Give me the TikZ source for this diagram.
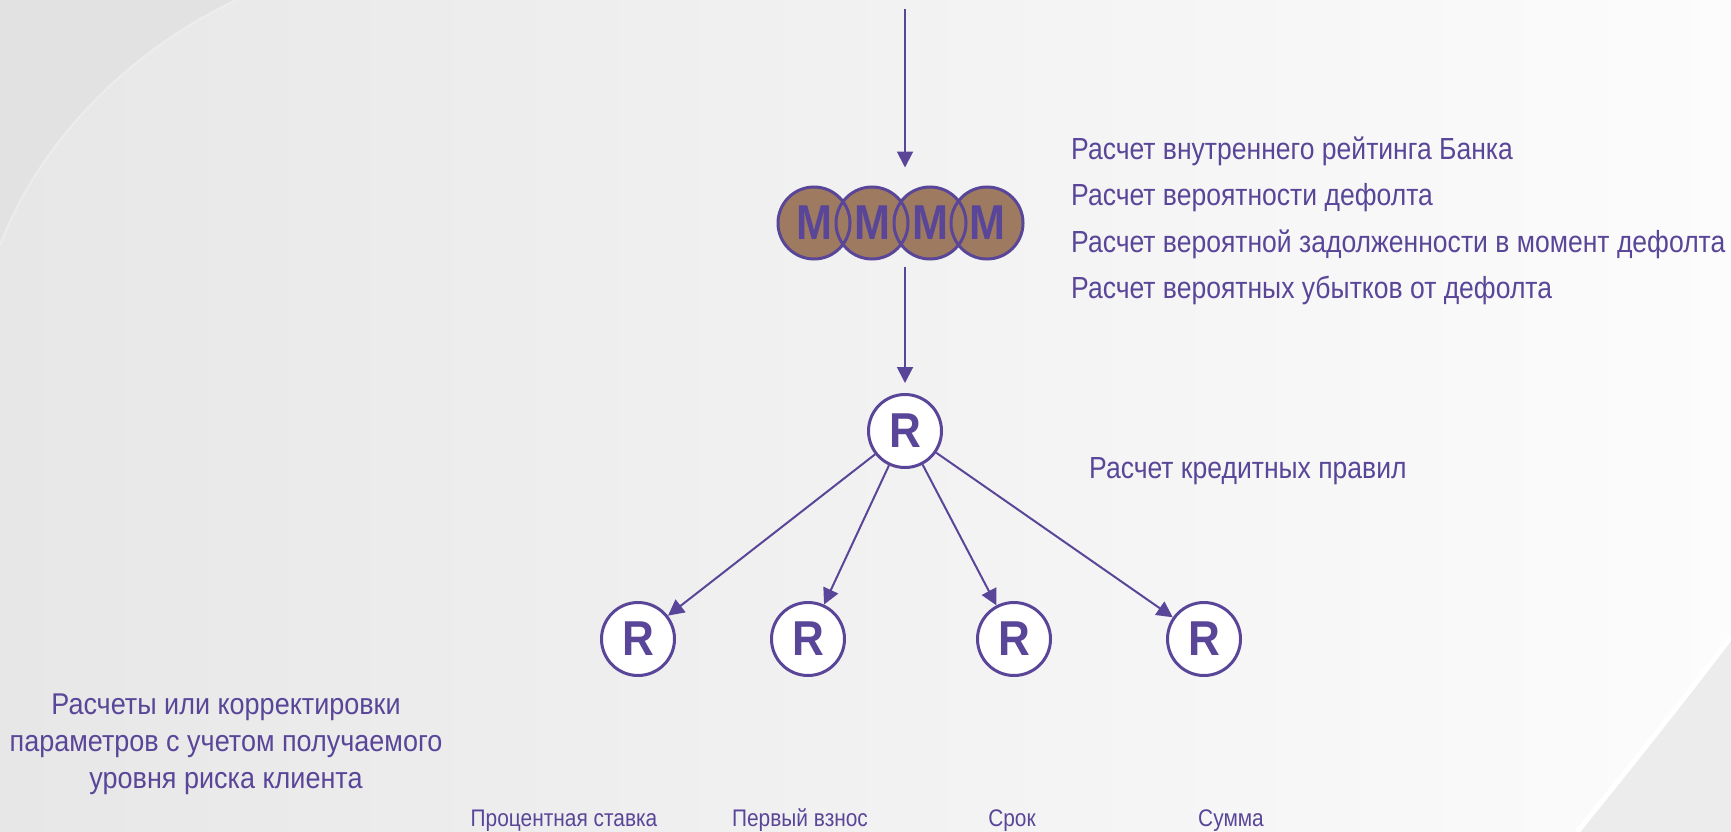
\documentclass[tikz,border=0pt]{standalone}
\usepackage{fontspec}
\setmainfont{Liberation Sans}
\newfontfamily\narrowfont[FakeStretch=0.87]{Liberation Sans}
\newfontfamily\leftfont[FakeStretch=0.9]{Liberation Sans}
\newfontfamily\boldnarrowM[FakeStretch=0.88]{Liberation Sans Bold}
\newfontfamily\boldnarrowR[FakeStretch=0.9]{Liberation Sans Bold}
\usetikzlibrary{arrows.meta,calc}
\definecolor{purp}{RGB}{90,70,152}
\definecolor{brownfill}{RGB}{158,122,96}
\definecolor{bgl}{RGB}{231,231,231}
\definecolor{bgr}{RGB}{252,252,252}
\definecolor{bgdark}{RGB}{226,226,226}
\definecolor{bgcorner}{RGB}{236,236,236}
\tikzset{
  mcirc/.style={circle, minimum size=72pt, inner sep=0pt, fill=brownfill, draw=purp, line width=3pt},
  mletter/.style={inner sep=0pt, text=purp, font=\boldnarrowM\fontsize{49}{49}\selectfont},
  rcirc/.style={circle, minimum size=73pt, inner sep=0pt, fill=white, draw=purp, line width=3pt, text=purp, font=\boldnarrowR\fontsize{49}{49}\selectfont},
  conn/.style={draw=purp, line width=2pt, -{Triangle[width=16pt,length=16pt]}},
  desc/.style={inner sep=0pt, text=purp, font=\narrowfont\fontsize{30.5}{30.5}\selectfont, anchor=base west},
  param/.style={inner sep=0pt, text=purp, font=\narrowfont\fontsize{24}{24}\selectfont, anchor=base},
}
\begin{document}
\begin{tikzpicture}[x=1pt, y=-1pt]
\useasboundingbox (0,0) rectangle (1731,832);
% background
\fill[left color=bgl, right color=bgr] (0,0) rectangle (1731,832);
\fill[bgdark] (0,0) -- (236,0) .. controls (130,50) and (40,140) .. (0,245) -- cycle;
\draw[white, opacity=0.3, line width=2pt] (236,0) .. controls (130,50) and (40,140) .. (0,245);
\fill[bgcorner] (1731,637) .. controls (1683,700) and (1633,763) .. (1577,832) -- (1731,832) -- cycle;
\draw[white, line width=5pt] (1731,637) .. controls (1683,700) and (1633,763) .. (1577,832);

% M group
\foreach \i/\x in {1/814,2/872,3/930,4/987}{
  \node[mcirc, draw=none] (M\i) at (\x,223) {};
}
\foreach \i in {1,...,4}{
  \draw[purp, line width=3pt] (M\i) circle (36pt);
}
\foreach \i in {1,...,4}{
  \node[mletter] (ML\i) at (M\i) {M};
}

% nodes
\coordinate (topin) at (905,9);
\node[rcirc] (R0) at (905,431) {R};
\node[rcirc] (R1) at (638,639) {R};
\node[rcirc] (R2) at (808,639) {R};
\node[rcirc] (R3) at (1014,639) {R};
\node[rcirc] (R4) at (1204,639) {R};

\draw[conn, shorten >=18pt] (topin) -- (M2.north -| topin);
\draw[conn, shorten <=6pt, shorten >=10pt] (M2.south -| topin) -- (R0.north);
\foreach \k in {1,...,4}{
  \draw[conn] (R0) -- (R\k);
}

% texts
\node[desc] (t1) at (1071,159) {Расчет внутреннего рейтинга Банка};
\node[desc] (t2) at (1071,205) {Расчет вероятности дефолта};
\node[desc] (t3) at (1071,252) {Расчет вероятной задолженности в момент дефолта};
\node[desc] (t4) at (1071,298) {Расчет вероятных убытков от дефолта};
\node[desc] (t5) at (1089,478) {Расчет кредитных правил};

\node[inner sep=0pt, text=purp, align=center, font=\leftfont\fontsize{30}{37}\selectfont] (lt) at (226,744)
  {Расчеты или корректировки\\параметров с учетом получаемого\\уровня риска клиента};

\node[param] (p1) at (564,826) {Процентная ставка};
\node[param] (p2) at (800,826) {Первый взнос};
\node[param] (p3) at (1012,826) {Срок};
\node[param] (p4) at (1231,826) {Сумма};
\end{tikzpicture}
\end{document}
